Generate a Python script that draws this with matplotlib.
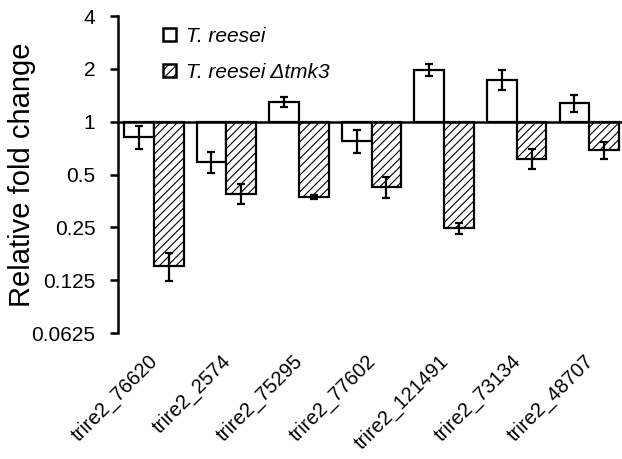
import numpy as np
import matplotlib
matplotlib.use("Agg")
import matplotlib.pyplot as plt
import matplotlib.transforms as mtransforms
from matplotlib.patches import Patch

plt.rcParams['font.family'] = ['Liberation Sans', 'DejaVu Sans']
plt.rcParams['hatch.linewidth'] = 0.8

# data
genes = ['trire2_76620', 'trire2_2574', 'trire2_75295', 'trire2_77602',
         'trire2_121491', 'trire2_73134', 'trire2_48707']
wt = [0.82, 0.59, 1.30, 0.78, 1.98, 1.74, 1.28]
wt_err = [0.12, 0.08, 0.08, 0.12, 0.15, 0.23, 0.14]
mut = [0.151, 0.389, 0.374, 0.426, 0.248, 0.615, 0.69]
mut_err = [0.027, 0.05, 0.01, 0.058, 0.018, 0.08, 0.08]
yticks = [0.0625, 0.125, 0.25, 0.5, 1, 2, 4]
ytick_labels = ['0.0625', '0.125', '0.25', '0.5', '1', '2', '4']

fig = plt.figure(figsize=(6.22, 4.59), dpi=100)
ax = fig.add_axes([0.19, 0.2745, 0.81, 0.6905])

x = np.arange(len(genes))
w = 0.41
wt = np.array(wt)
mut = np.array(mut)

ax.bar(x - w / 2, wt - 1, bottom=1, width=w, color='white', edgecolor='black',
       linewidth=1.6, zorder=2)
ax.bar(x + w / 2, mut - 1, bottom=1, width=w, color='white', edgecolor='black',
       hatch='////', linewidth=1.6, zorder=2)
ax.errorbar(x - w / 2, wt, yerr=wt_err, fmt='none', ecolor='black',
            elinewidth=1.6, capsize=3, capthick=1.6, zorder=3)
ax.errorbar(x + w / 2, mut, yerr=mut_err, fmt='none', ecolor='black',
            elinewidth=1.6, capsize=3, capthick=1.6, zorder=3)

ax.axhline(1, color='black', linewidth=1.8, zorder=4)

ax.set_yscale('log', base=2)
ax.set_ylim(0.0625, 4)
ax.set_yticks(yticks)
ax.set_yticklabels(ytick_labels, fontsize=15)
ax.minorticks_off()
ax.set_xlim(-0.49, 6.45)
ax.set_xticks(x)
ax.set_xticklabels(genes, rotation=45, ha='right', rotation_mode='anchor', fontsize=14.5)
ax.tick_params(axis='x', length=0, pad=13)
ax.tick_params(axis='y', length=6, width=1.8, direction='out', pad=10.5)

# nudge x labels a little to the left
shift = mtransforms.ScaledTranslation(-4 / 72, 0, fig.dpi_scale_trans)
for lbl in ax.get_xticklabels():
    lbl.set_transform(lbl.get_transform() + shift)

for s in ['top', 'right', 'bottom']:
    ax.spines[s].set_visible(False)
ax.spines['left'].set_linewidth(1.8)

ax.set_ylabel('Relative fold change', fontsize=21, labelpad=-3.5)

handles = [Patch(facecolor='white', edgecolor='black', linewidth=1.8),
           Patch(facecolor='white', edgecolor='black', hatch='////', linewidth=1.8)]
ax.legend(handles, ['T. reesei', 'T. reesei Δtmk3'], loc='upper left',
          bbox_to_anchor=(0.089, 0.965), frameon=False, borderpad=0,
          borderaxespad=0, handlelength=0.6, handleheight=0.6,
          handletextpad=0.5, labelspacing=0.8,
          prop={'style': 'italic', 'size': 15})

fig.savefig('out.png', dpi=100)
